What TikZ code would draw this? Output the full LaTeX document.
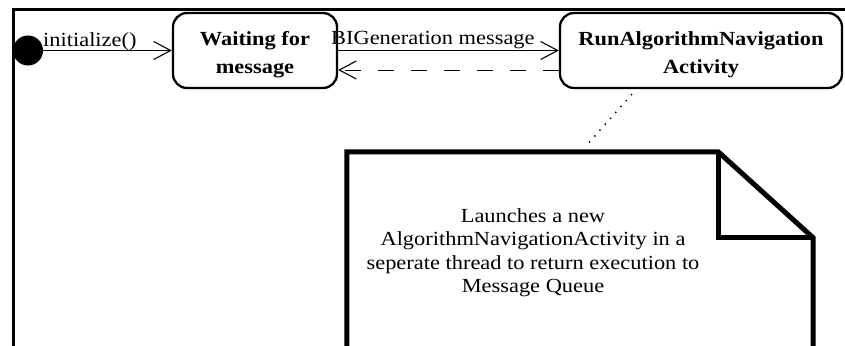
\documentclass[tikz,border=0pt]{standalone}
\usepackage{fontspec}
\setmainfont{Liberation Serif}[FakeStretch=1.12]
\usetikzlibrary{arrows.meta}
\begin{document}
\begin{tikzpicture}[x=1pt,y=-1pt,
  statebox/.style={draw, line width=2.3pt, rounded corners=14pt, inner sep=0pt},
  statetext/.style={font=\fontsize{20}{28}\selectfont\bfseries, align=center, inner sep=0pt},
  trans/.style={line width=1pt, -{Straight Barb[length=17pt,width=18pt,line width=1.1pt]}},
  ret/.style={trans, dash pattern=on 16pt off 17pt},
  lbl/.style={font=\fontsize{20}{24}\selectfont, inner sep=0pt},
  notetxt/.style={font=\fontsize{20}{23.5}\selectfont, align=center, inner sep=0pt},
  anchorline/.style={line width=1.4pt, dash pattern=on 1.4pt off 6.5pt},
  frame/.style={line width=3pt},
  noteline/.style={line width=5pt, line join=miter}
]
\useasboundingbox (0,0) rectangle (845,345);
\fill[white] (0,0) rectangle (845,345);
\clip (0,0) rectangle (845,345);

% outer frame
\draw[frame] (13,346) -- (13,10) -- (846,10);

% initial pseudo-state
\node[circle, fill=black, minimum size=30pt, inner sep=0pt] (init) at (28,50.5) {};

% states
\node[statebox, minimum width=164pt, minimum height=75pt] (wait) at (255,50.5) {};
\node[statetext] (waittext) at ([yshift=-4pt]wait.center) {Waiting for\\message};
\node[statebox, minimum width=282pt, minimum height=75pt] (run) at (701,50.5) {};
\node[statetext] (runtext) at ([yshift=-4pt]run.center) {RunAlgorithmNavigation\\Activity};

% transitions
\draw[trans] (init) -- (wait);
\node[lbl, anchor=base west] (initlbl) at (43,47) {initialize()};
\draw[trans] (wait) -- (run);
\node[lbl, anchor=base west] (genlbl) at (331,45) {BIGeneration message};
\draw[ret] ([yshift=-19.5pt]run.west) -- ([yshift=-19.5pt]wait.east);

% comment note with folded corner
\node[minimum width=466pt, minimum height=208pt, inner sep=0pt] (note) at (580,256) {};
\draw[noteline] (note.south west) -- (note.north west) -- ([xshift=-95pt]note.north east)
  -- ([yshift=-86pt]note.north east) -- (note.south east);
\draw[noteline] ([xshift=-95pt]note.north east) -- ++(0,86) -- ([yshift=-86pt]note.north east);
\node[notetxt] (notetext) at (533,252.5) {Launches a new\\AlgorithmNavigationActivity in a\\seperate thread to return execution to\\Message Queue};

% anchor from note to state
\draw[anchorline] ([xshift=-69pt,yshift=-5pt]run.south) -- ([xshift=7pt,yshift=7pt]note.north);
\end{tikzpicture}
\end{document}
